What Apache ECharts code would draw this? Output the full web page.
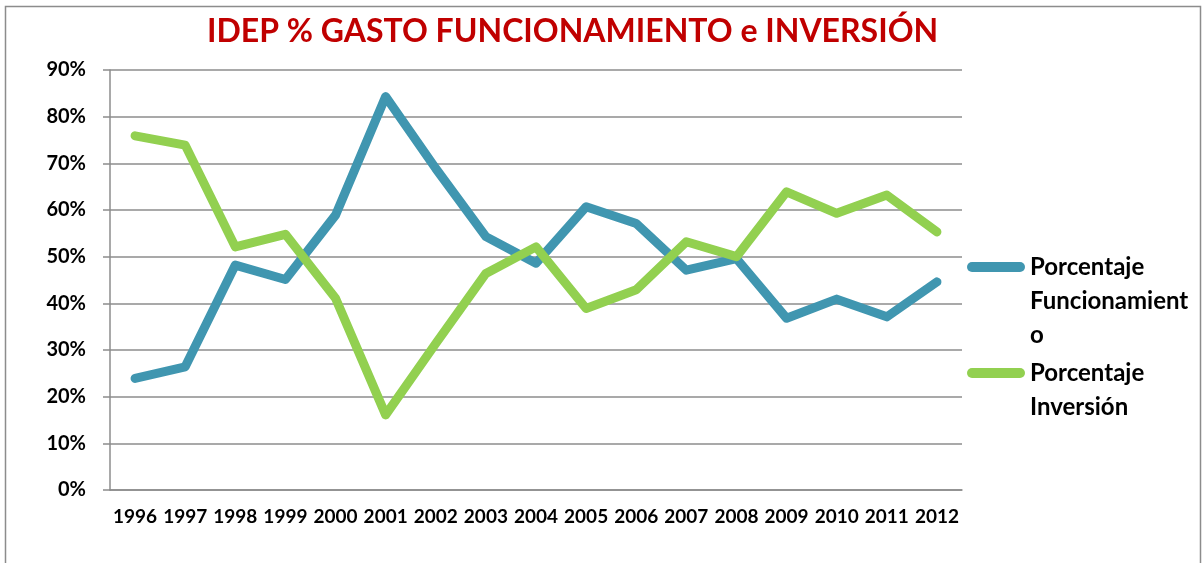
<!DOCTYPE html>
<html>
<head>
<meta charset="utf-8">
<script src="https://cdn.jsdelivr.net/npm/echarts@6/dist/echarts.min.js"></script>
<style>
  html, body { margin: 0; padding: 0; background: #fff; }
  #chart { width: 1204px; height: 563px; }
</style>
</head>
<body>
<div id="chart"></div>
<script>
// años
var years = ["1996", "1997", "1998", "1999", "2000", "2001", "2002", "2003", "2004",
  "2005", "2006", "2007", "2008", "2009", "2010", "2011", "2012"];
// porcentajes
var funcionamiento = [23.9, 26.4, 48.2, 45.1, 58.9, 84.3, 68.9, 54.3, 48.6,
  60.7, 57.1, 47.1, 49.6, 36.8, 40.9, 37.1, 44.6];
var inversion = [75.9, 73.9, 52.1, 54.8, 41.1, 16.1, 31.4, 46.4, 52.1,
  38.9, 42.9, 53.2, 50.0, 63.9, 59.3, 63.2, 55.3];
var seriesNames = ["Porcentaje Funcionamiento", "Porcentaje Inversión"];
var legendLabels = ["Porcentaje\nFuncionamient\no", "Porcentaje\nInversión"];

var font = "Lato";
var LH = 34;

// barra redondeada alineada con la primera linea del texto
function lineIcon(lines) {
  var h = LH * lines;
  return "path://M0,0 L0,0 M5,12 L53,12 A5,5 0 0 1 53,22 L5,22 A5,5 0 0 1 5,12 Z M0," + h + " L0," + h;
}

var chart = echarts.init(document.getElementById("chart"));

function legendFor(i, top, lines) {
  return {
    data: [seriesNames[i]],
    orient: "vertical",
    left: 967,
    top: top,
    padding: 0,
    itemWidth: 58,
    itemHeight: LH * lines,
    itemGap: 0,
    icon: lineIcon(lines),
    itemStyle: { borderWidth: 0 },
    formatter: function () { return legendLabels[i]; },
    textStyle: {
      fontFamily: font,
      fontWeight: "bold",
      fontSize: 24,
      color: "#000",
      lineHeight: LH
    }
  };
}

chart.setOption({
  animation: false,
  title: {
    text: "IDEP % GASTO FUNCIONAMIENTO e INVERSIÓN",
    left: 207,
    top: 16,
    padding: 0,
    textStyle: {
      fontFamily: font,
      fontWeight: "bold",
      fontSize: 32,
      color: "#C00000"
    }
  },
  graphic: [{
    type: "rect",
    shape: { x: 5.5, y: 6.5, width: 1195, height: 570 },
    style: { fill: "none", stroke: "#8c8c8c", lineWidth: 1.5 },
    silent: true
  }],
  legend: [legendFor(0, 250, 3), legendFor(1, 356, 2)],
  grid: {
    left: 110,
    right: 242,
    top: 70,
    bottom: 73
  },
  xAxis: {
    type: "category",
    data: years,
    boundaryGap: true,
    axisLine: { lineStyle: { color: "#8c8c8c", width: 1.5 } },
    axisTick: { length: 6, lineStyle: { color: "#8c8c8c", width: 1.5 } },
    axisLabel: {
      interval: 0,
      margin: 17,
      fontFamily: font,
      fontWeight: "bold",
      fontSize: 19,
      color: "#000"
    }
  },
  yAxis: {
    type: "value",
    min: 0,
    max: 90,
    interval: 10,
    axisLine: { show: true, lineStyle: { color: "#8c8c8c", width: 1.5 } },
    axisTick: { show: true, length: 7, lineStyle: { color: "#8c8c8c", width: 1.5 } },
    splitLine: { lineStyle: { color: "#8c8c8c", width: 1.5 } },
    axisLabel: {
      formatter: "{value}%",
      margin: 24,
      fontFamily: font,
      fontWeight: "bold",
      fontSize: 20,
      color: "#000"
    }
  },
  series: [
    {
      name: seriesNames[0],
      type: "line",
      data: funcionamiento,
      symbol: "none",
      color: "#4096B0",
      lineStyle: { width: 9, color: "#4096B0", cap: "round", join: "round" }
    },
    {
      name: seriesNames[1],
      type: "line",
      data: inversion,
      symbol: "none",
      color: "#92D050",
      lineStyle: { width: 9, color: "#92D050", cap: "round", join: "round" }
    }
  ]
});
</script>
</body>
</html>
